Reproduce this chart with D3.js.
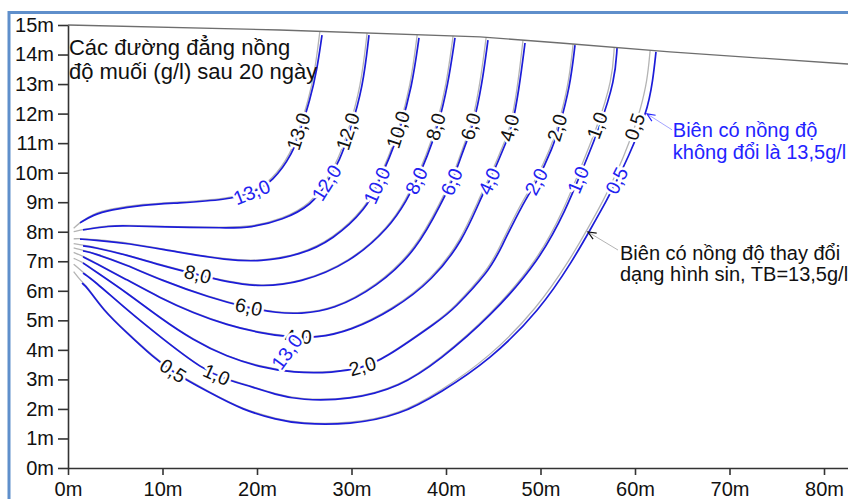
<!DOCTYPE html>
<meta charset="utf-8">
<style>
body { margin: 0; background: #fff; }
svg { display: block; font-family: "Liberation Sans", Arial, sans-serif; }
</style>
<body>

<script src="https://cdnjs.cloudflare.com/ajax/libs/d3/7.8.5/d3.min.js"></script>

<script>
var width = 848,
    height = 499;

// contour levels (g/l), same order as the line arrays below
var levels = ["13,0", "12,0", "10,0", "8,0", "6,0", "4,0", "2,0", "1,0", "0,5"];

// isolines for the boundary with constant concentration (blue), [x m, depth m]
var blueLines = [
  [[1.27,8.30],[2.65,8.57],[4.44,8.74],[7.94,8.91],[11.53,8.97],[16.83,9.08],[19.47,9.31],[21.69,9.69],[23.81,10.67],[24.55,11.38],[25.61,12.46],[26.35,13.48],[26.88,14.66]],
  [[1.59,8.06],[4.44,8.20],[6.24,8.20],[9.74,8.16],[16.83,8.13],[19.26,8.13],[22.75,8.40],[25.82,8.91],[27.41,9.65],[28.78,10.43],[29.84,11.38],[31.22,12.90],[31.85,14.66]],
  [[1.27,7.75],[2.65,7.72],[6.24,7.62],[11.53,7.31],[16.83,7.04],[20.32,6.98],[24.55,7.21],[28.04,7.72],[31.64,8.80],[32.70,9.58],[34.07,10.53],[35.13,11.45],[36.40,12.90],[37.14,14.56]],
  [[1.59,7.52],[2.65,7.48],[6.24,7.21],[9.74,6.87],[13.76,6.54],[16.83,6.30],[20.32,6.13],[24.55,6.26],[29.84,6.94],[34.07,8.16],[35.87,9.08],[36.93,9.75],[37.99,10.53],[39.15,11.55],[40.21,12.97],[40.95,14.56]],
  [[1.59,7.35],[2.65,7.28],[6.24,6.87],[9.74,6.37],[15.03,5.76],[19.05,5.42],[22.12,5.25],[24.55,5.22],[28.04,5.35],[32.70,6.13],[36.93,7.38],[39.68,9.08],[40.63,9.69],[41.48,10.43],[42.22,11.11],[42.86,11.55],[43.81,12.97],[44.44,14.49]],
  [[1.59,7.15],[2.65,6.98],[6.24,6.37],[9.74,5.76],[13.23,5.25],[16.83,4.84],[20.32,4.57],[23.17,4.44],[26.35,4.40],[29.84,4.64],[34.39,5.35],[38.62,6.37],[41.80,7.72],[43.60,9.08],[44.66,9.75],[45.71,10.53],[46.46,11.11],[46.98,11.51],[47.72,12.80],[48.36,14.39]],
  [[1.59,6.94],[2.65,6.71],[6.24,5.93],[9.74,5.08],[13.23,4.33],[16.83,3.76],[20.32,3.42],[23.81,3.22],[28.04,3.22],[31.11,3.39],[33.33,3.66],[39.37,5.01],[40.74,5.35],[44.66,6.71],[45.71,7.38],[48.15,8.97],[49.63,9.69],[51.32,10.87],[51.96,11.51],[53.12,12.90],[53.65,14.32]],
  [[1.59,6.60],[2.65,6.37],[6.24,5.35],[9.74,4.44],[14.29,3.32],[16.93,2.98],[18.52,2.84],[22.12,2.47],[24.55,2.30],[29.84,2.30],[35.13,2.74],[39.37,3.66],[44.66,5.11],[49.95,7.04],[52.80,8.84],[53.97,9.75],[56.30,11.55],[57.88,13.14],[58.10,14.22]],
  [[1.48,6.26],[2.01,6.13],[3.70,5.35],[6.24,4.57],[8.99,3.76],[11.01,3.25],[15.03,2.54],[18.52,1.96],[22.12,1.63],[24.55,1.49],[29.84,1.46],[35.13,1.79],[39.37,2.54],[44.66,3.66],[49.95,5.35],[53.44,7.04],[55.24,8.06],[57.04,9.08],[58.10,9.75],[59.15,10.43],[61.27,12.02],[61.90,13.14],[62.22,14.09]]
];

// isolines for the boundary with sine-varying concentration (grey)
var grayLines = [
  [[0.6,8.12],[1.3,8.32],[2.6,8.60],[4.4,8.77],[7.9,8.94],[11.5,9.00],[16.8,9.11],[19.4,9.34],[21.6,9.73],[23.65,10.70],[24.4,11.40],[25.45,12.46],[26.15,13.48],[26.65,14.78]],
  [[0.6,8.00],[1.6,8.08],[4.4,8.22],[6.2,8.22],[9.7,8.18],[16.8,8.15],[19.2,8.16],[22.7,8.43],[25.7,8.95],[27.25,9.68],[28.6,10.45],[29.65,11.40],[31.0,12.90],[31.65,14.73]],
  [[0.6,7.76],[1.3,7.77],[2.6,7.74],[6.2,7.64],[11.5,7.33],[16.8,7.06],[20.3,7.00],[24.5,7.23],[28.0,7.75],[31.55,8.83],[32.6,9.60],[33.95,10.55],[35.0,11.47],[36.25,12.92],[36.95,14.67]],
  [[0.6,7.60],[1.6,7.54],[2.6,7.50],[6.2,7.23],[9.7,6.89],[13.7,6.56],[16.8,6.32],[20.3,6.15],[24.5,6.28],[29.8,6.96],[34.0,8.18],[35.75,9.10],[36.8,9.77],[37.85,10.55],[39.0,11.57],[40.05,12.99],[40.75,14.63]],
  [[0.6,7.45],[1.6,7.37],[2.6,7.30],[6.2,6.89],[9.7,6.39],[15.0,5.78],[19.0,5.44],[22.1,5.27],[24.5,5.24],[28.0,5.37],[32.6,6.15],[36.8,7.40],[39.55,9.10],[40.5,9.71],[41.35,10.45],[42.1,11.13],[42.7,11.57],[43.6,12.99],[44.25,14.58]],
  [[0.6,7.30],[1.6,7.17],[2.6,7.00],[6.2,6.39],[9.7,5.78],[13.2,5.27],[16.8,4.86],[20.3,4.59],[23.1,4.46],[26.3,4.42],[29.8,4.66],[34.3,5.37],[38.5,6.39],[41.65,7.74],[43.45,9.10],[44.5,9.77],[45.55,10.55],[46.3,11.13],[46.8,11.53],[47.55,12.82],[48.15,14.49]],
  [[0.6,7.10],[1.6,6.96],[2.6,6.73],[6.2,5.95],[9.7,5.10],[13.2,4.35],[16.8,3.78],[20.3,3.44],[23.8,3.24],[28.0,3.24],[31.1,3.41],[33.3,3.68],[39.3,5.03],[40.65,5.37],[44.5,6.73],[45.55,7.40],[47.95,8.99],[49.45,9.71],[51.15,10.89],[51.8,11.53],[52.95,12.92],[53.45,14.35]],
  [[0.6,6.90],[1.6,6.62],[2.6,6.39],[6.2,5.37],[9.7,4.46],[14.25,3.34],[16.9,3.00],[18.5,2.86],[22.1,2.49],[24.5,2.32],[29.8,2.32],[35.1,2.76],[39.3,3.68],[44.55,5.13],[49.8,7.06],[52.6,8.86],[53.75,9.77],[56.05,11.57],[57.6,13.16],[57.8,14.24]],
  [[0.6,6.65],[1.45,6.30],[2.0,6.16],[3.7,5.38],[6.2,4.60],[9.0,3.79],[11.0,3.28],[15.0,2.57],[18.5,1.99],[22.1,1.66],[24.5,1.52],[29.8,1.49],[35.1,1.82],[39.3,2.58],[44.5,3.72],[49.7,5.42],[53.2,7.10],[55.0,8.10],[56.75,9.12],[57.75,9.80],[58.75,10.50],[60.0,11.55],[60.55,12.12],[61.3,13.10],[61.6,14.14]]
];

// upper edge of the domain
var topBoundary = [[0,15.0],[22.4,14.83],[43.6,14.60],[52.1,14.39],[63.7,14.09],[82.5,13.68],[86,13.6]];

var xTicks = [0, 10, 20, 30, 40, 50, 60, 70, 80];
var yTicks = d3.range(0, 16);

// contour labels: line index, where the label sits
var grayLabels = [
  {line: 0, at: [24.55, 11.38]}, {line: 1, at: [29.84, 11.38]}, {line: 2, at: [35.13, 11.45]},
  {line: 3, at: [39.15, 11.55]}, {line: 4, at: [42.96, 11.55]}, {line: 5, at: [46.98, 11.51]},
  {line: 6, at: [51.96, 11.51]}, {line: 7, at: [56.30, 11.55]}, {line: 8, at: [59.90, 11.55]},
  {line: 3, at: [13.76, 6.54]}, {line: 4, at: [19.05, 5.42]}, {line: 5, at: [24.34, 4.37]},
  {line: 6, at: [31.20, 3.42]}, {line: 7, at: [15.56, 3.08]}, {line: 8, at: [11.00, 3.22]}
];
var blueLabels = [
  {line: 0, at: [19.47, 9.35]}, {line: 1, at: [27.41, 9.65]}, {line: 2, at: [32.70, 9.58]},
  {line: 3, at: [36.93, 9.72]}, {line: 4, at: [40.63, 9.69]}, {line: 5, at: [44.55, 9.72]},
  {line: 6, at: [49.63, 9.69]}, {line: 7, at: [53.97, 9.75]}, {line: 8, at: [58.10, 9.72]}
];
// the stray label that sits off its line in the original
var strayLabel = {text: "13,0", at: [23.17, 3.93], angle: -54};

var titleLines = ["Các đường đẳng nồng", "độ muối (g/l) sau 20 ngày"];
var blueNote = ["Biên có nồng độ", "không đổi là 13,5g/l"];
var blackNote = ["Biên có nồng độ thay đổi", "dạng hình sin, TB=13,5g/l"];

var x = d3.scaleLinear().domain([0, 85]).range([68, 68 + 85 * 9.45]);
var y = d3.scaleLinear().domain([0, 15]).range([468, 25]);

var svg = d3.select("body").append("svg")
    .attr("width", width)
    .attr("height", height);

var defs = svg.append("defs");
function marker(id, color) {
  defs.append("marker")
      .attr("id", id)
      .attr("viewBox", "-10 -5 12 10")
      .attr("refX", 0).attr("refY", 0)
      .attr("markerWidth", 12).attr("markerHeight", 10)
      .attr("markerUnits", "userSpaceOnUse")
      .attr("orient", "auto")
    .append("path")
      .attr("d", "M-8,-3.5L0,0L-8,3.5")
      .attr("fill", "none")
      .attr("stroke", color)
      .attr("stroke-width", 1.2);
}
marker("headBlue", "#2626ff");
marker("headBlack", "#111");

var line = d3.line()
    .x(function(d) { return x(d[0]); })
    .y(function(d) { return y(d[1]); })
    .curve(d3.curveBasis);

var grayPaths = svg.append("g").selectAll("path")
    .data(grayLines)
  .enter().append("path")
    .attr("d", line)
    .attr("fill", "none")
    .attr("stroke", "#b4b4b4")
    .attr("stroke-width", 1.3);

var bluePaths = svg.append("g").selectAll("path")
    .data(blueLines)
  .enter().append("path")
    .attr("d", line)
    .attr("fill", "none")
    .attr("stroke", "#1c1cd8")
    .attr("stroke-width", 1.7);

svg.append("path")
    .attr("d", d3.line().x(function(d) { return x(d[0]); }).y(function(d) { return y(d[1]); })(topBoundary))
    .attr("fill", "none")
    .attr("stroke", "#6e6e6e")
    .attr("stroke-width", 1.3);

// put a label on the nearest point of its path, turned along the line
function snap(node, target) {
  var len = node.getTotalLength(), best = 0, bd = Infinity;
  for (var l = 0; l <= len; l += 1) {
    var p = node.getPointAtLength(l);
    var d = (p.x - target[0]) * (p.x - target[0]) + (p.y - target[1]) * (p.y - target[1]);
    if (d < bd) { bd = d; best = l; }
  }
  var c = node.getPointAtLength(best),
      a = node.getPointAtLength(Math.max(0, best - 6)),
      b = node.getPointAtLength(Math.min(len, best + 6));
  var ang = Math.atan2(b.y - a.y, b.x - a.x) * 180 / Math.PI;
  if (ang > 90) ang -= 180;
  if (ang < -90) ang += 180;
  return {x: c.x, y: c.y, a: ang};
}

var labelLayer = svg.append("g")
    .attr("font-size", "19.5px")
    .attr("text-anchor", "middle");

function drawLabel(text, pos, color) {
  labelLayer.append("text")
      .attr("transform", "translate(" + pos.x + "," + pos.y + ") rotate(" + pos.a + ")")
      .attr("dy", "0.35em")
      .attr("fill", color)
      .attr("stroke", "#fff")
      .attr("stroke-width", 5)
      .attr("stroke-linejoin", "round")
      .attr("paint-order", "stroke")
      .text(text);
}

grayLabels.forEach(function(d) {
  var pos = snap(grayPaths.nodes()[d.line], [x(d.at[0]), y(d.at[1])]);
  drawLabel(levels[d.line], pos, "#111");
});
blueLabels.forEach(function(d) {
  var pos = snap(bluePaths.nodes()[d.line], [x(d.at[0]), y(d.at[1])]);
  drawLabel(levels[d.line], pos, "#2222f0");
});
drawLabel(strayLabel.text, {x: x(strayLabel.at[0]), y: y(strayLabel.at[1]), a: strayLabel.angle}, "#2222f0");

// axes
var xAxis = svg.append("g")
    .attr("transform", "translate(0," + y(0) + ")")
    .call(d3.axisBottom(x).tickValues(xTicks).tickSize(7).tickSizeOuter(0).tickPadding(7)
      .tickFormat(function(d) { return d + "m"; }));
var yAxis = svg.append("g")
    .attr("transform", "translate(" + x(0) + ",0)")
    .call(d3.axisLeft(y).tickValues(yTicks).tickSize(10).tickSizeOuter(0).tickPadding(4)
      .tickFormat(function(d) { return d + "m"; }));
[xAxis, yAxis].forEach(function(g) {
  g.attr("font-family", null).attr("font-size", null);
  g.selectAll("path, line").attr("stroke", "#333").attr("stroke-width", 1.6);
  g.selectAll("text").attr("fill", "#111").style("font-size", "20px");
});

// notes
var notes = svg.append("g");
notes.append("text")
    .attr("x", x(0.1)).attr("y", y(13.99))
    .attr("font-size", "22px").attr("fill", "#111")
  .selectAll("tspan").data(titleLines).enter().append("tspan")
    .attr("x", x(0.1)).attr("dy", function(d, i) { return i ? 24 : 0; })
    .text(function(d) { return d; });

notes.append("text")
    .attr("y", y(11.21))
    .attr("font-size", "20px").attr("fill", "#2323ff")
  .selectAll("tspan").data(blueNote).enter().append("tspan")
    .attr("x", x(64.0)).attr("dy", function(d, i) { return i ? 22 : 0; })
    .text(function(d) { return d; });

notes.append("text")
    .attr("y", y(7.04))
    .attr("font-size", "20px").attr("fill", "#111")
  .selectAll("tspan").data(blackNote).enter().append("tspan")
    .attr("x", x(58.41)).attr("dy", function(d, i) { return i ? 21 : 0; })
    .text(function(d) { return d; });

notes.append("line")
    .attr("x1", x(63.92)).attr("y1", y(11.45))
    .attr("x2", x(61.27)).attr("y2", y(11.99))
    .attr("stroke", "#9a9aff").attr("stroke-width", 0.9)
    .attr("marker-end", "url(#headBlue)");
notes.append("line")
    .attr("x1", x(58.2)).attr("y1", y(7.38))
    .attr("x2", x(55.03)).attr("y2", y(7.99))
    .attr("stroke", "#aaa").attr("stroke-width", 0.9)
    .attr("marker-end", "url(#headBlack)");

// frame
svg.append("rect")
    .attr("x", 9).attr("y", 12.5)
    .attr("width", 900).attr("height", 600)
    .attr("fill", "none")
    .attr("stroke", "#5f8fcb")
    .attr("stroke-width", 3);
</script>

</body>
